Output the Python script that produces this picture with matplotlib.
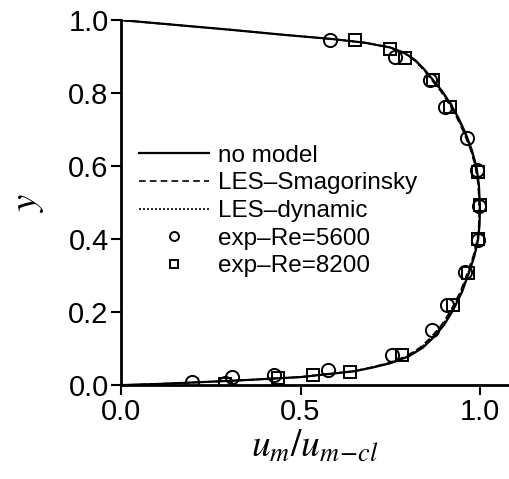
import matplotlib
matplotlib.use("Agg")
import matplotlib.pyplot as plt

# computed profiles: shared y stations, one u/u_cl list per model
sim_y = [1.0, 0.987, 0.974, 0.960, 0.948, 0.938, 0.925, 0.91, 0.89, 0.865, 0.835, 0.805,
         0.772, 0.732, 0.69, 0.645, 0.60, 0.55, 0.49, 0.44, 0.40, 0.355, 0.31, 0.255,
         0.205, 0.165, 0.13, 0.102, 0.078, 0.06, 0.048, 0.038, 0.022, 0.014, 0.008, 0.003, 0.0]
no_model_u = [0.0, 0.15, 0.30, 0.45, 0.59, 0.68, 0.75, 0.79, 0.82, 0.845, 0.87, 0.895,
              0.917, 0.94, 0.96, 0.977, 0.99, 0.997, 1.0, 0.999, 0.995, 0.985, 0.97, 0.95,
              0.925, 0.90, 0.87, 0.84, 0.80, 0.75, 0.70, 0.65, 0.50, 0.35, 0.22, 0.10, 0.0]
smag_u = [0.0, 0.15, 0.30, 0.45, 0.59, 0.68, 0.75, 0.788, 0.817, 0.842, 0.866, 0.891,
          0.913, 0.936, 0.956, 0.974, 0.987, 0.995, 0.998, 0.997, 0.993, 0.982, 0.966, 0.945,
          0.919, 0.893, 0.863, 0.832, 0.792, 0.743, 0.694, 0.645, 0.497, 0.35, 0.22, 0.10, 0.0]
dyn_u = [0.0, 0.15, 0.30, 0.45, 0.59, 0.68, 0.75, 0.789, 0.818, 0.843, 0.868, 0.893,
         0.915, 0.938, 0.958, 0.975, 0.988, 0.996, 0.999, 0.998, 0.994, 0.983, 0.968, 0.947,
         0.922, 0.896, 0.866, 0.835, 0.795, 0.746, 0.697, 0.647, 0.498, 0.35, 0.22, 0.10, 0.0]

# measurements
exp5600_u = [0.197, 0.29, 0.31, 0.425, 0.577, 0.754, 0.866, 0.907, 0.958, 0.995,
             0.998, 0.993, 0.963, 0.902, 0.861, 0.763, 0.582]
exp5600_y = [0.008, 0.006, 0.022, 0.027, 0.041, 0.082, 0.15, 0.219, 0.31, 0.397,
             0.49, 0.588, 0.676, 0.763, 0.836, 0.90, 0.945]

exp8200_u = [0.29, 0.437, 0.535, 0.638, 0.783, 0.925, 0.967, 0.995,
             1.0, 0.994, 0.916, 0.87, 0.79, 0.75, 0.652]
exp8200_y = [0.004, 0.019, 0.027, 0.036, 0.082, 0.219, 0.307, 0.40,
             0.493, 0.583, 0.763, 0.836, 0.895, 0.922, 0.945]

x_ticks = [0.0, 0.5, 1.0]
y_ticks = [0.0, 0.2, 0.4, 0.6, 0.8, 1.0]

plt.rcParams['font.family'] = ['Liberation Sans', 'DejaVu Sans']
plt.rcParams['mathtext.fontset'] = 'stix'

fig = plt.figure(figsize=(5.09, 4.79), dpi=100)
ax = fig.add_axes([0.238, 0.196, 0.762, 0.762])

ax.plot(no_model_u, sim_y, color='black', lw=1.6, ls='-', label='no model')
ax.plot(smag_u, sim_y, color='black', lw=1.2, ls=(0, (4, 2.5)), label='LES\u2013Smagorinsky')
ax.plot(dyn_u, sim_y, color='black', lw=1.2, ls=(0, (1.2, 1.2)), label='LES\u2013dynamic')
ax.plot(exp5600_u, exp5600_y, ls='none', marker='o', ms=9.5, mfc='none', mec='black', mew=1.4,
        label='exp\u2013Re=5600')
ax.plot(exp8200_u, exp8200_y, ls='none', marker='s', ms=9, mfc='none', mec='black', mew=1.4,
        label='exp\u2013Re=8200')

ax.set_xlim(0, 1.081)
ax.set_ylim(0, 1.0)
ax.set_xticks(x_ticks)
ax.set_yticks(y_ticks)
ax.set_xticklabels(['%.1f' % t for t in x_ticks])
ax.set_yticklabels(['%.1f' % t for t in y_ticks])
ax.tick_params(direction='out', length=7, width=1.5, labelsize=21, pad=2)

for side in ('top', 'right'):
    ax.spines[side].set_visible(False)
for side in ('left', 'bottom'):
    ax.spines[side].set_linewidth(2.0)
    ax.spines[side].set_clip_on(False)

ax.set_xlabel(r'$u_m/u_{m\!-\!cl}$', fontsize=27, labelpad=2)
ax.set_ylabel(r'$y$', fontsize=28, labelpad=16)

ax.legend(loc='upper left', bbox_to_anchor=(0.02, 0.685), frameon=False,
          fontsize=17.5, markerscale=0.68, handlelength=2.9, handletextpad=0.35,
          labelspacing=0.23, borderaxespad=0)

fig.savefig('out.png', dpi=100)
